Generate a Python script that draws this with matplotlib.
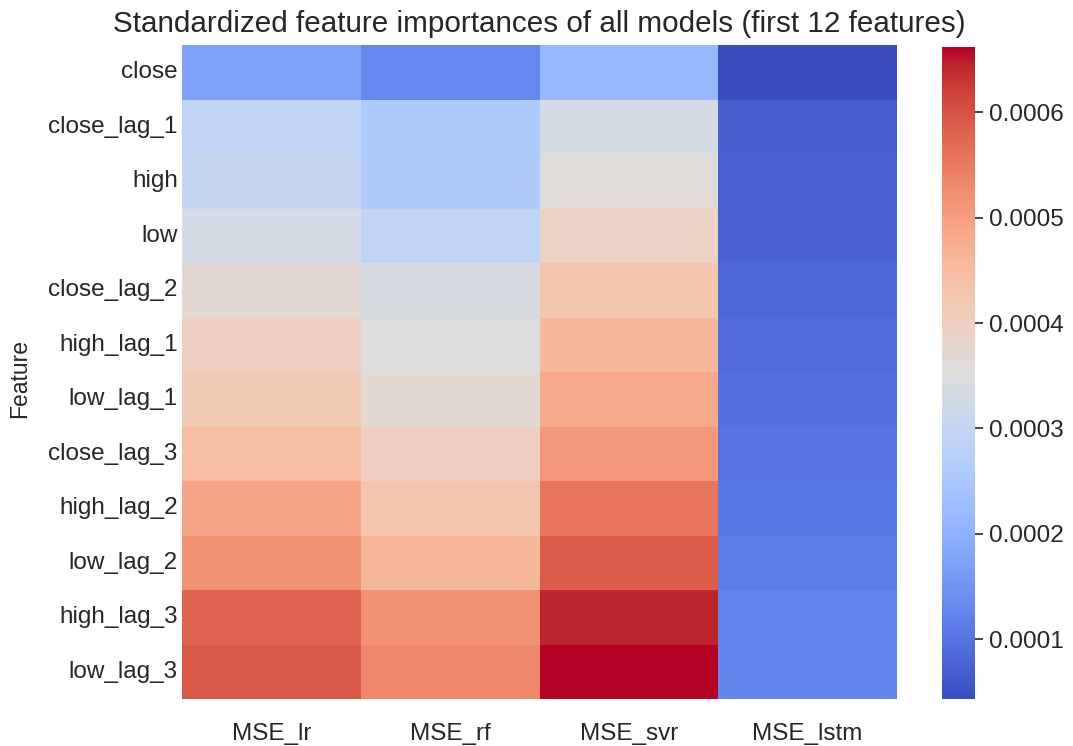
import matplotlib
matplotlib.use("Agg")
import matplotlib.pyplot as plt
import numpy as np
import pandas as pd
import seaborn as sns

features = ["close", "close_lag_1", "high", "low", "close_lag_2", "high_lag_1",
            "low_lag_1", "close_lag_3", "high_lag_2", "low_lag_2", "high_lag_3", "low_lag_3"]
models = ["MSE_lr", "MSE_rf", "MSE_svr", "MSE_lstm"]

mse_lr = [0.000173, 0.000291, 0.000303, 0.000334, 0.000371, 0.000402,
          0.000415, 0.000446, 0.000489, 0.000520, 0.000582, 0.000594]
mse_rf = [0.000130, 0.000254, 0.000260, 0.000291, 0.000340, 0.000353,
          0.000371, 0.000402, 0.000427, 0.000458, 0.000520, 0.000532]
mse_svr = [0.000216, 0.000334, 0.000359, 0.000390, 0.000427, 0.000452,
           0.000483, 0.000508, 0.000557, 0.000588, 0.000644, 0.000662]
mse_lstm = [0.0000432, 0.0000680, 0.0000711, 0.0000742, 0.0000834, 0.0000896,
            0.0000958, 0.0000989, 0.000105, 0.000111, 0.000124, 0.000127]

df = pd.DataFrame({"MSE_lr": mse_lr, "MSE_rf": mse_rf,
                   "MSE_svr": mse_svr, "MSE_lstm": mse_lstm}, index=features)
df.index.name = "Feature"

sns.set_theme(style="white")
plt.rcParams["font.family"] = ["Liberation Sans", "DejaVu Sans"]

fig = plt.figure(figsize=(10.73, 7.46), dpi=100)
ax = fig.add_axes([182 / 1073, 1 - 699 / 746, (897 - 182) / 1073, (699 - 45) / 746])
cax = fig.add_axes([942 / 1073, 1 - 699 / 746, (975 - 942) / 1073, (699 - 47) / 746])

sns.heatmap(df, cmap="coolwarm", ax=ax, cbar_ax=cax)

ax.set_title("Standardized feature importances of all models (first 12 features)",
             fontsize=21.3, color="#262626", pad=9)
ax.set_ylabel("Feature", fontsize=16.5, color="#262626")
ax.yaxis.set_label_coords(-0.211, 0.49)
ax.set_xlabel("")
ax.tick_params(axis="both", labelsize=17.5, length=0, colors="#262626")
ax.tick_params(axis="y", pad=3)
ax.tick_params(axis="x", pad=17)
ax.set_yticklabels(features, rotation=0)
ax.set_xticklabels(models, rotation=0)

cax.set_yticks([0.0001, 0.0002, 0.0003, 0.0004, 0.0005, 0.0006])
cax.set_yticklabels(["0.0001", "0.0002", "0.0003", "0.0004", "0.0005", "0.0006"])
cax.tick_params(labelsize=17.5, length=6, width=1.2, colors="#262626", pad=4)

fig.savefig("out.png", dpi=100, facecolor="white")
